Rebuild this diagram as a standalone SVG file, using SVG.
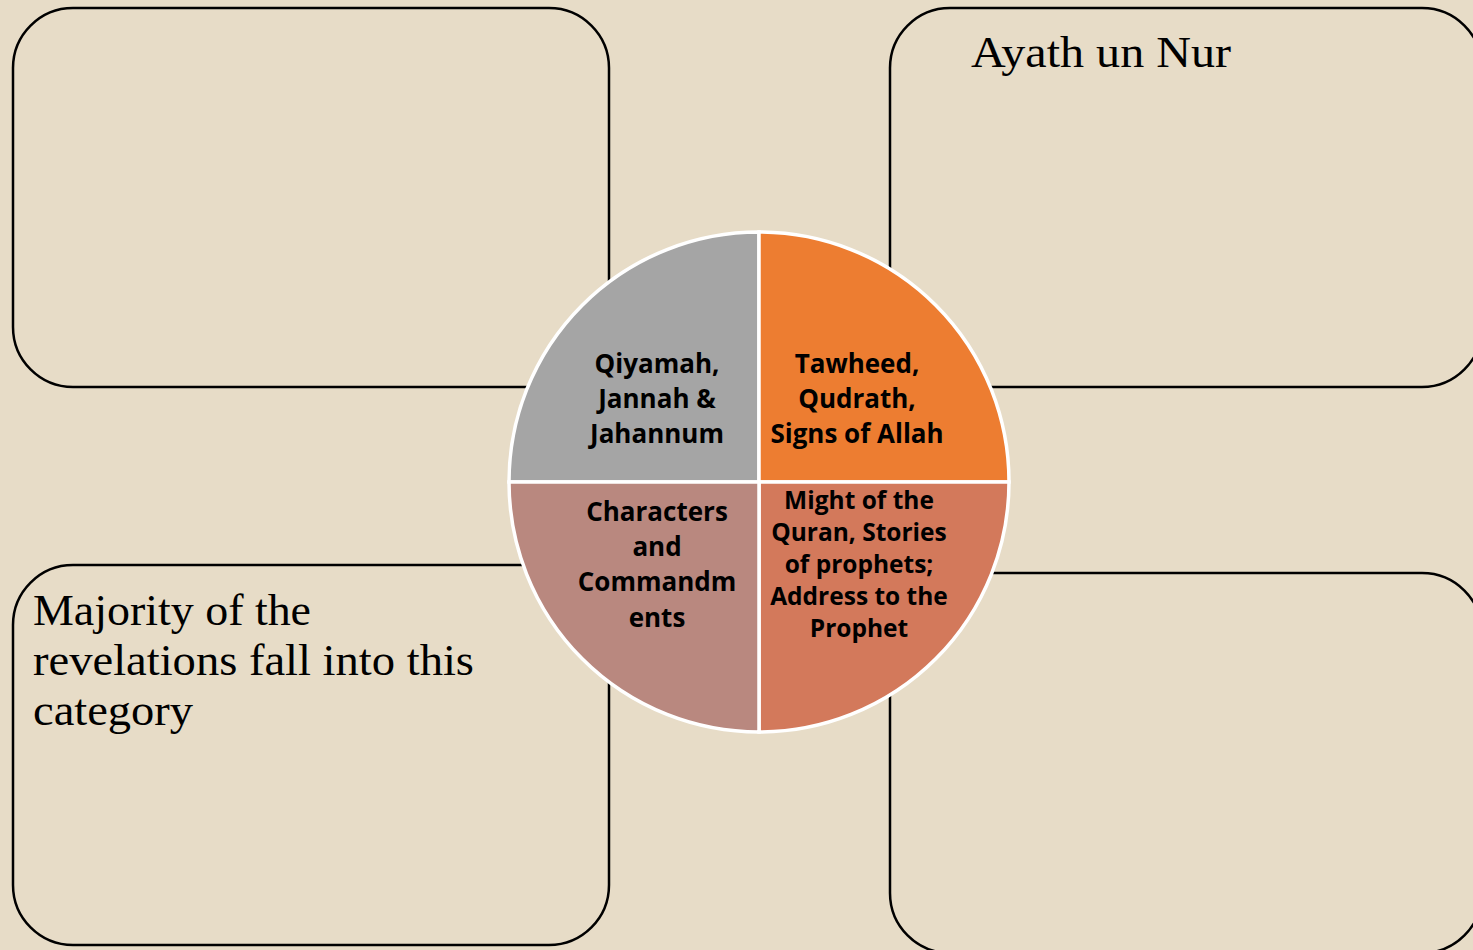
<svg xmlns="http://www.w3.org/2000/svg" width="1473" height="950" viewBox="0 0 1473 950">
<style>
.box{fill:none;stroke:#000;stroke-width:2.5}
.seg{stroke:#fff;stroke-width:3.5}
.lbl{font-family:"Open Sans","Noto Sans",sans-serif;font-weight:bold;fill:#000;text-anchor:middle}
.serif{font-family:"Liberation Serif","Times New Roman",serif;fill:#000}
</style>
<rect x="0" y="0" width="1473" height="950" fill="#e7dcc7"/>
<g id="box-top-left"><rect class="box" x="13" y="8" width="596" height="379" rx="60" ry="60"/></g>
<g id="box-top-right"><rect class="box" x="890" y="8" width="592" height="379" rx="60" ry="60"/>
<text class="serif" x="971" y="67" font-size="45" textLength="260" lengthAdjust="spacingAndGlyphs">Ayath un Nur</text></g>
<g id="box-bottom-left"><rect class="box" x="13" y="565" width="596" height="380" rx="60" ry="60"/>
<text class="serif" font-size="44" x="33" y="625" textLength="278" lengthAdjust="spacingAndGlyphs">Majority of the</text>
<text class="serif" font-size="44" x="33" y="675" textLength="441" lengthAdjust="spacingAndGlyphs">revelations fall into this</text>
<text class="serif" font-size="44" x="33" y="725" textLength="160" lengthAdjust="spacingAndGlyphs">category</text></g>
<g id="box-bottom-right"><rect class="box" x="890" y="573" width="592" height="380" rx="60" ry="60"/></g>
<g id="pie">
<g id="seg-qiyamah"><path class="seg" fill="#a5a5a5" d="M759,482 L509,482 A250,250 0 0 1 759,232 Z"/>
<text class="lbl" font-size="26"><tspan x="657" y="373">Qiyamah,</tspan><tspan x="657" y="408">Jannah &amp;</tspan><tspan x="657" y="443">Jahannum</tspan></text></g>
<g id="seg-tawheed"><path class="seg" fill="#ed7d31" d="M759,482 L759,232 A250,250 0 0 1 1009,482 Z"/>
<text class="lbl" font-size="26"><tspan x="857" y="373">Tawheed,</tspan><tspan x="857" y="408">Qudrath,</tspan><tspan x="857" y="443">Signs of Allah</tspan></text></g>
<g id="seg-might"><path class="seg" fill="#d3795b" d="M759,482 L1009,482 A250,250 0 0 1 759,732 Z"/>
<text class="lbl" font-size="24.5"><tspan x="859" y="509">Might of the</tspan><tspan x="859" y="541">Quran, Stories</tspan><tspan x="859" y="573">of prophets;</tspan><tspan x="859" y="605">Address to the</tspan><tspan x="859" y="637">Prophet</tspan></text></g>
<g id="seg-characters"><path class="seg" fill="#b9887f" d="M759,482 L759,732 A250,250 0 0 1 509,482 Z"/>
<text class="lbl" font-size="26"><tspan x="657" y="521">Characters</tspan><tspan x="657" y="556">and</tspan><tspan x="657" y="591">Commandm</tspan><tspan x="657" y="627">ents</tspan></text></g>
</g>
</svg>
